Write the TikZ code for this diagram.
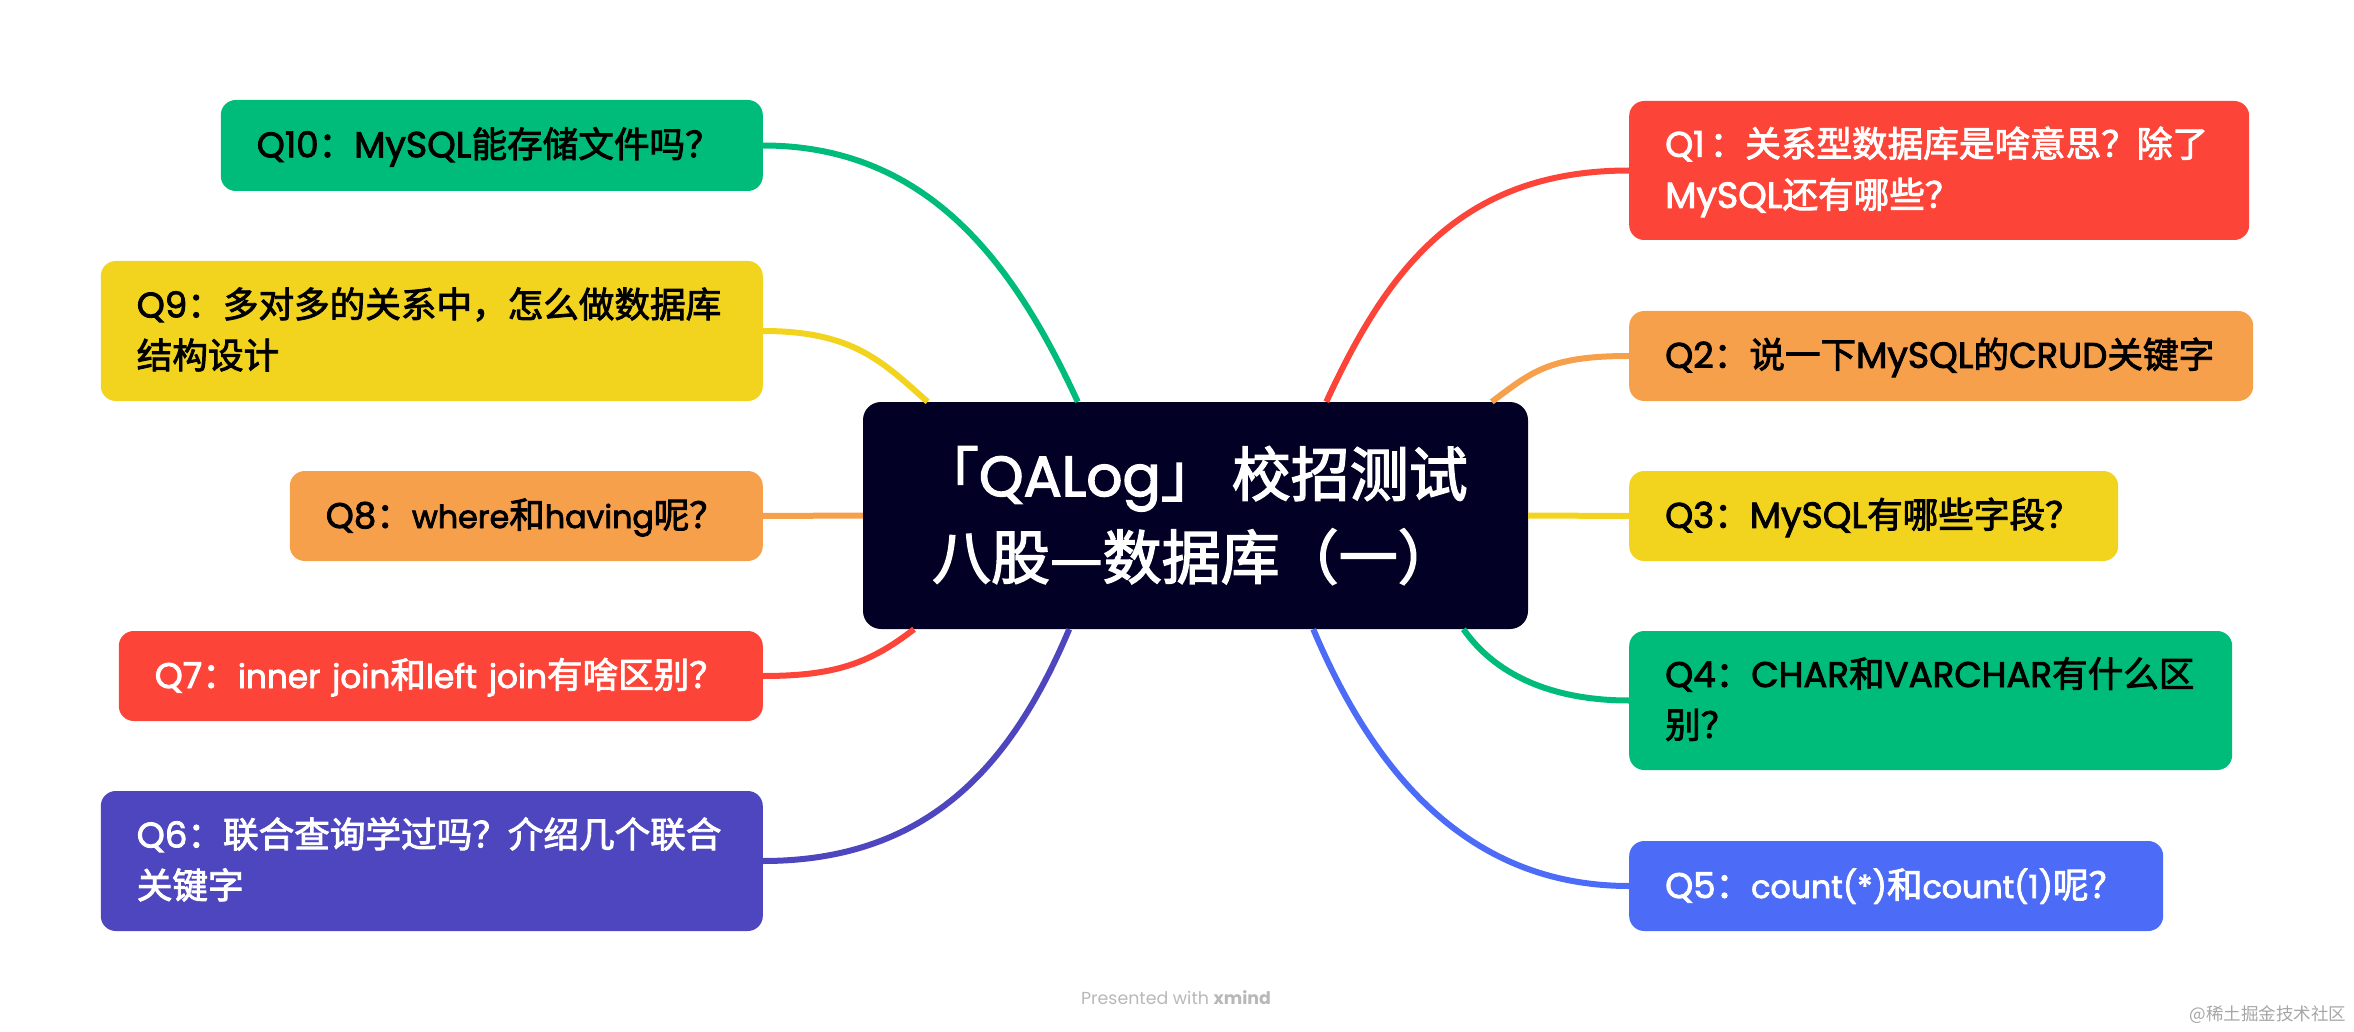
\documentclass[tikz,border=0pt]{standalone}
\usepackage{fontspec}
\setmainfont[FakeBold=2.4]{Noto Sans CJK SC}
\newfontfamily\latfont[FakeBold=2.4,Scale=0.89]{Poppins}
\newfontfamily\joinfont[FakeBold=2.4,Scale=0.92]{Poppins}
\newfontfamily\capfont[FakeBold=2.4]{Poppins}
\newfontfamily\mysqlfont[FakeBold=2.4,Scale=1.02]{Poppins}
\newfontfamily\titlefont[FakeBold=2.4,Scale=0.96]{Poppins}
\newfontfamily\markfont{Noto Sans CJK SC}
\newfontfamily\credfont{Poppins}
\newcommand{\lat}[1]{{\latfont #1}}
\newcommand{\cpt}[1]{{\capfont #1}}
\newcommand{\mysql}{{\mysqlfont MySQL}}
\definecolor{qgreen}{HTML}{00BC7B}
\definecolor{qyellow}{HTML}{F2D41F}
\definecolor{qorange}{HTML}{F7A04B}
\definecolor{qred}{HTML}{FC4438}
\definecolor{qindigo}{HTML}{4E46BE}
\definecolor{qblue}{HTML}{4C6CF7}
\definecolor{qdark}{HTML}{020024}
\begin{document}
\begin{tikzpicture}[x=1pt,y=-1pt,
                    topic/.style n args={4}{fill=#3,text=#4,rounded corners=15pt,inner xsep=36pt,inner ysep=0pt,
                                            text width=#1pt-72pt,minimum height=#2pt,align=left,
                                            font=\fontsize{35.6}{51}\selectfont,
                                            execute at begin node={\rule[-9pt]{0pt}{42pt}},
                                            execute at end node={\rule[-9pt]{0pt}{42pt}}},
                    link/.style={line width=6pt}]
                    \useasboundingbox (0,0) rectangle (2354,1032);
                    \node[fill=qdark,text=white,rounded corners=18pt,inner xsep=69pt,inner ysep=0pt,
                          text width=527pt,minimum height=227pt,align=left,
                          font=\fontsize{59}{83}\selectfont] (root) at (1195.5,515.5)
                        {\kern-12pt「{\titlefont QALog}」\kern12pt校招测试\\八股—数据库（一）};
                    \node[topic={620}{139}{qred}{white},anchor=west] (q1) at (1629,170.5)
                        {\cpt{Q1}\kern5pt：关系型数据库是啥意思？除了\\\mysql 还有哪些？};
                    \node[topic={624}{90}{qorange}{black},anchor=west] (q2) at (1629,356)
                        {\cpt{Q2}：说一下\mysql 的\cpt{CRUD}关键字};
                    \node[topic={489}{90}{qyellow}{black},anchor=west] (q3) at (1629,516)
                        {\cpt{Q3}：\mysql 有哪些字段？};
                    \node[topic={603}{139}{qgreen}{black},anchor=west] (q4) at (1629,700.5)
                        {\cpt{Q4}：\cpt{CHAR}和\cpt{VARCHAR}有什么区\\别？};
                    \node[topic={534}{90}{qblue}{white},anchor=west] (q5) at (1629,886)
                        {\cpt{Q5}：\lat{count(*)}和\lat{count(1)}呢？};
                    \node[topic={662}{140}{qindigo}{white},anchor=east] (q6) at (763,861)
                        {\cpt{Q6}：联合查询学过吗？介绍几个联合\\关键字};
                    \node[topic={644}{90}{qred}{white},anchor=east] (q7) at (763,676)
                        {\cpt{Q7}：{\joinfont inner join}和{\joinfont left join}有啥区别？};
                    \node[topic={473}{90}{qorange}{black},anchor=east] (q8) at (763,516)
                        {\cpt{Q8}：\lat{where}和\lat{having}呢？};
                    \node[topic={662}{140}{qyellow}{black},anchor=east] (q9) at (763,331)
                        {\cpt{Q9}：多对多的关系中，怎么做数据库\\结构设计};
                    \node[topic={542}{91}{qgreen}{black},anchor=east] (q10) at (763,145.5)
                        {\cpt{Q10}：\mysql 能存储文件吗？};
                    \draw[link,qred] (q1.west) .. controls +(-170,0) and +(60,-130) .. (root.41.9);
                    \draw[link,qorange] (q2.west) .. controls +(-80,0) and +(40,-30) .. (root.21.9);
                    \draw[link,qyellow] (q3.west) -- (root.east);
                    \draw[link,qgreen] (q4.west) .. controls +(-70,0) and +(35,50) .. (root.-23);
                    \draw[link,qblue] (q5.west) .. controls +(-170,0) and +(55,130) .. (root.-44.3);
                    \draw[link,qindigo] (q6.east) .. controls +(170,0) and +(-55,130) .. (root.222.4);
                    \draw[link,qred] (q7.east) .. controls +(70,0) and +(-45,35) .. (root.202.4);
                    \draw[link,qorange] (q8.east) -- (root.west);
                    \draw[link,qyellow] (q9.east) .. controls +(90,0) and +(-45,-40) .. (root.157.95);
                    \draw[link,qgreen] (q10.east) .. controls +(170,0) and +(-60,-130) .. (root.136);
                    \node[text=black!28,font=\credfont\fontsize{17.4}{18}\selectfont] (presented) at (1176,998) {Presented with \textbf{xmind}};
                    \node[text=black!35,font=\markfont\fontsize{17.5}{18}\selectfont] (mark) at (2268,1015) {@稀土掘金技术社区};
                \end{tikzpicture}
\end{document}
